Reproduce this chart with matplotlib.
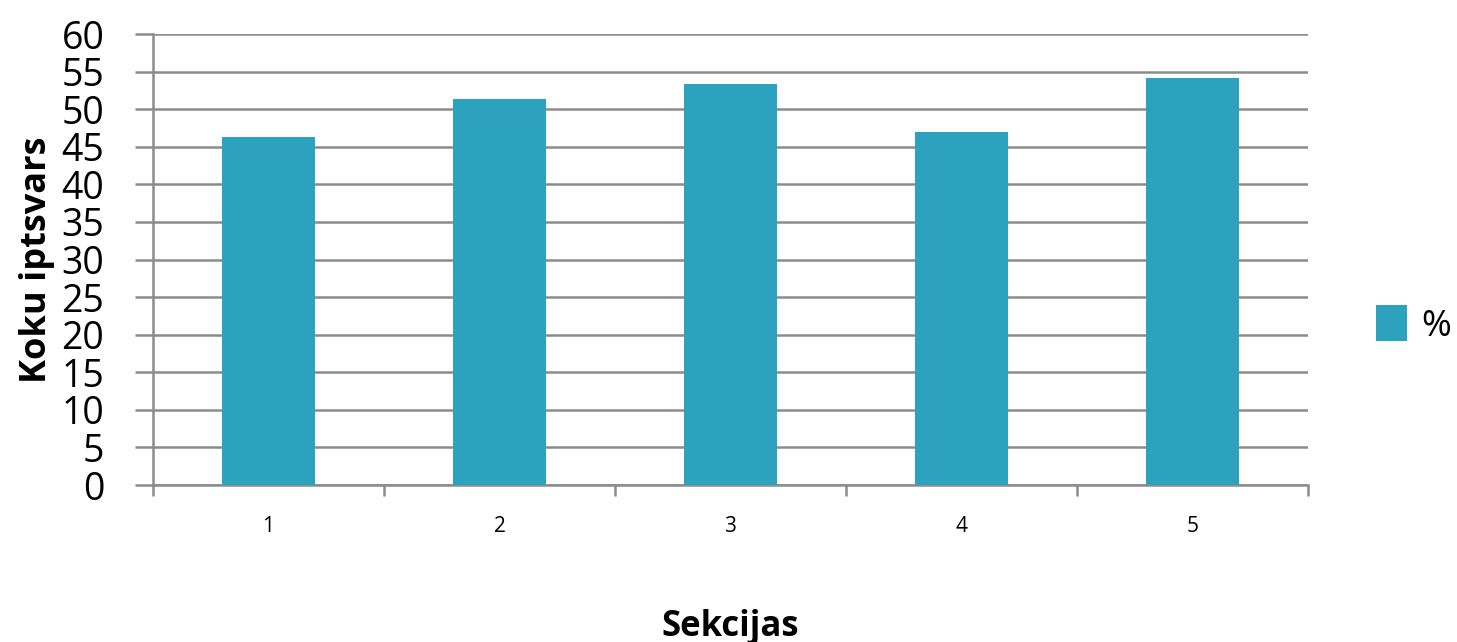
import numpy as np
import matplotlib.pyplot as plt
from matplotlib.transforms import ScaledTranslation

# data
sections = ['1', '2', '3', '4', '5']
values = [46.3, 51.3, 53.3, 47.0, 54.1]
yticks = list(range(0, 61, 5))

bar_color = '#2CA2BF'
grid_color = '#8C8C8C'

plt.rcParams['font.family'] = ['Open Sans', 'DejaVu Sans']

fig = plt.figure(figsize=(14.57, 6.42), dpi=100)
ax = fig.add_axes([0.105, 0.2445, 0.7927, 0.7025])

x = np.arange(1, len(sections) + 1)
ax.bar(x, values, width=0.4, color=bar_color, zorder=3, label='%')

ax.set_xlim(0.5, len(sections) + 0.5)
ax.set_ylim(0, 60)
ax.set_yticks(yticks)
ax.set_yticklabels([str(t) for t in yticks], fontsize=27)
ax.set_xticks(x)
ax.set_xticklabels(sections, fontsize=15)
ax.set_xticks(np.arange(0.5, len(sections) + 1), minor=True)

# y labels sit a bit above their gridlines in the original
shift = ScaledTranslation(0, 6 / 100, fig.dpi_scale_trans)
for lbl in ax.get_yticklabels():
    lbl.set_transform(lbl.get_transform() + shift)

ax.grid(axis='y', color=grid_color, linewidth=1.8, zorder=0)
ax.tick_params(axis='y', length=13, width=1.8, color=grid_color, pad=22)
ax.tick_params(axis='x', which='major', length=0, pad=22)
ax.tick_params(axis='x', which='minor', length=8, width=1.8, color=grid_color)

for s in ['top', 'right']:
    ax.spines[s].set_visible(False)
for s in ['left', 'bottom']:
    ax.spines[s].set_color(grid_color)
    ax.spines[s].set_linewidth(1.8)

ax.set_ylabel('Koku iptsvars', fontsize=26, fontweight='bold', labelpad=5)
ax.set_xlabel('Sekcijas', fontsize=25, fontweight='bold', labelpad=52)

fig.legend(loc='center left', bbox_to_anchor=(1376 / 1457, 1 - 325 / 642),
           frameon=False, fontsize=26, handlelength=0.85, handleheight=1.15,
           handletextpad=0.4, borderpad=0, borderaxespad=0)

fig.savefig('out.png', dpi=100)
